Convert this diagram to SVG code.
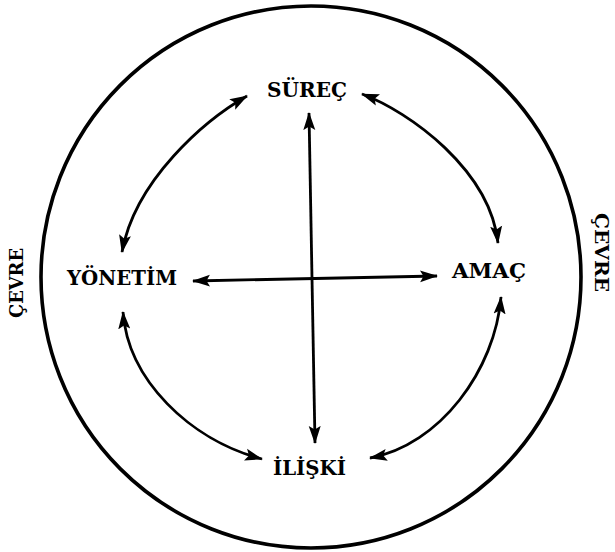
<svg xmlns="http://www.w3.org/2000/svg" width="615" height="552" viewBox="0 0 615 552">
<style>
.lbl{font-family:"DejaVu Serif","Liberation Serif",serif;font-weight:bold;font-size:20px;fill:#000}
.side{font-size:19px}
.con{fill:none;stroke:#000;stroke-width:2.8}
</style>
<defs>
<marker id="ah" markerUnits="userSpaceOnUse" markerWidth="20" markerHeight="14" refX="17" refY="7" orient="auto-start-reverse">
<path d="M0,1 L18,7 L0,13 L3.5,7 z" fill="#000"/>
</marker>
</defs>
<rect width="615" height="552" fill="#fff"/>
<g id="cevre-circle">
<ellipse cx="311" cy="277" rx="270" ry="271" fill="none" stroke="#000" stroke-width="3.6"/>
</g>
<g id="connectors">
<path class="con" d="M309,113 L315,443" marker-start="url(#ah)" marker-end="url(#ah)"/>
<path class="con" d="M193,281 L437,276" marker-start="url(#ah)" marker-end="url(#ah)"/>
<path class="con" d="M247,96 C205,120 135,180 122,252" marker-start="url(#ah)" marker-end="url(#ah)"/>
<path class="con" d="M362,94 C410,112 490,170 498,243" marker-start="url(#ah)" marker-end="url(#ah)"/>
<path class="con" d="M123,312 C128,380 190,440 262,459" marker-start="url(#ah)" marker-end="url(#ah)"/>
<path class="con" d="M501,297 C495,370 440,445 370,458" marker-start="url(#ah)" marker-end="url(#ah)"/>
</g>
<g id="surec"><text class="lbl" x="267" y="97" textLength="80" lengthAdjust="spacingAndGlyphs">SÜREÇ</text></g>
<g id="yonetim"><text class="lbl" x="67" y="285" textLength="110" lengthAdjust="spacingAndGlyphs">YÖNETİM</text></g>
<g id="amac"><text class="lbl" x="452" y="278" textLength="74" lengthAdjust="spacingAndGlyphs">AMAÇ</text></g>
<g id="iliski"><text class="lbl" x="273" y="475" textLength="73" lengthAdjust="spacingAndGlyphs">İLİŞKİ</text></g>
<g id="cevre-left"><text class="lbl side" transform="translate(23,318) rotate(-90)" x="0" y="0" textLength="70" lengthAdjust="spacingAndGlyphs">ÇEVRE</text></g>
<g id="cevre-right"><text class="lbl side" transform="translate(595,213) rotate(90)" x="0" y="0" textLength="79" lengthAdjust="spacingAndGlyphs">ÇEVRE</text></g>
</svg>
